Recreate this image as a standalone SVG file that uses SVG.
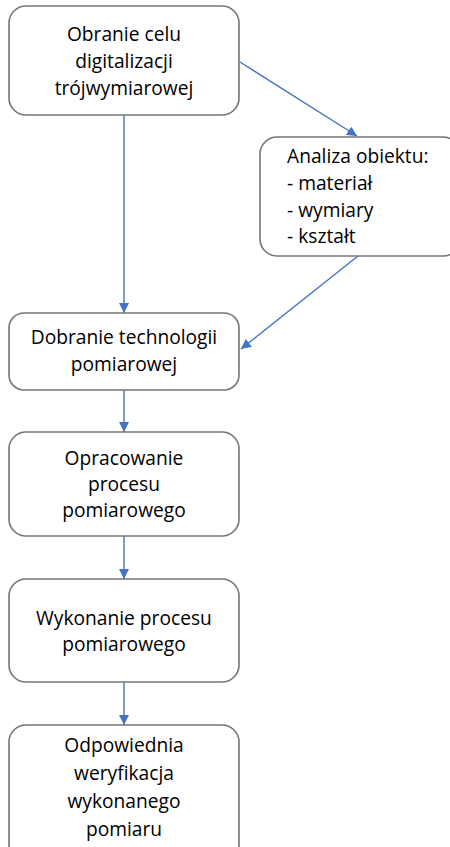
<svg xmlns="http://www.w3.org/2000/svg" width="450" height="847" viewBox="0 0 450 847">
<style>
.box{fill:#fff;stroke:#767676;stroke-width:1.6}
.t{font-family:"Open Sans","Liberation Sans",sans-serif;font-size:19.2px;fill:#000;text-anchor:middle}
.l{text-anchor:start}
.c{stroke:#4472C4;stroke-width:1.4;fill:none;marker-end:url(#ah)}
</style>
<defs>
<marker id="ah" viewBox="0 0 10 10" refX="10" refY="5" markerWidth="10" markerHeight="10" markerUnits="userSpaceOnUse" orient="auto">
<path d="M0,0 L10,5 L0,10 z" fill="#4472C4"/>
</marker>
</defs>
<g id="connectors">
<line class="c" x1="124" y1="115" x2="124" y2="313"/>
<line class="c" x1="240" y1="62" x2="357" y2="136"/>
<line class="c" x1="358" y1="256" x2="241" y2="349"/>
<line class="c" x1="124" y1="390" x2="124" y2="432"/>
<line class="c" x1="124" y1="536" x2="124" y2="579"/>
<line class="c" x1="124" y1="682" x2="124" y2="725"/>
</g>
<g id="n1">
<rect class="box" x="9" y="6" width="230" height="109" rx="17"/>
<text class="t" x="124" y="41">Obranie celu</text>
<text class="t" x="124" y="68">digitalizacji</text>
<text class="t" x="124" y="95">trójwymiarowej</text>
</g>
<g id="n2">
<rect class="box" x="260" y="137" width="200" height="119" rx="17"/>
<text class="t l" x="287" y="163">Analiza obiektu:</text>
<text class="t l" x="287" y="190">- materiał</text>
<text class="t l" x="287" y="217">- wymiary</text>
<text class="t l" x="287" y="243">- kształt</text>
</g>
<g id="n3">
<rect class="box" x="9" y="313" width="230" height="77" rx="15"/>
<text class="t" x="124" y="344">Dobranie technologii</text>
<text class="t" x="124" y="371">pomiarowej</text>
</g>
<g id="n4">
<rect class="box" x="9" y="432" width="230" height="104" rx="17"/>
<text class="t" x="124" y="465">Opracowanie</text>
<text class="t" x="124" y="491">procesu</text>
<text class="t" x="124" y="517">pomiarowego</text>
</g>
<g id="n5">
<rect class="box" x="9" y="579" width="230" height="103" rx="17"/>
<text class="t" x="124" y="625">Wykonanie procesu</text>
<text class="t" x="124" y="651">pomiarowego</text>
</g>
<g id="n6">
<rect class="box" x="9" y="725" width="230" height="140" rx="17"/>
<text class="t" x="124" y="752">Odpowiednia</text>
<text class="t" x="124" y="780">weryfikacja</text>
<text class="t" x="124" y="808">wykonanego</text>
<text class="t" x="124" y="836">pomiaru</text>
</g>
</svg>
